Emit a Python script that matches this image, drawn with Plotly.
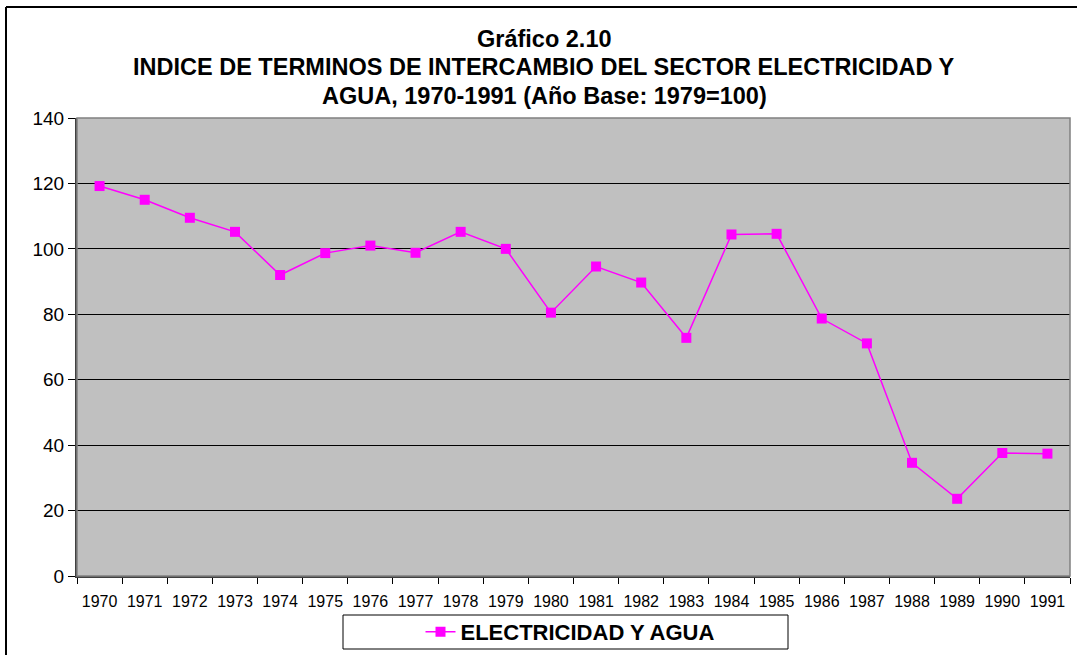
import plotly.graph_objects as go

years = [str(y) for y in range(1970, 1992)]
values = [119.2, 115.0, 109.5, 105.2, 92.0, 98.7, 101.0, 98.8, 105.2, 100.0,
          80.5, 94.6, 89.7, 72.8, 104.4, 104.6, 78.7, 71.1, 34.6, 23.6, 37.6, 37.4]
y_ticks = [0, 20, 40, 60, 80, 100, 120, 140]
series_name = "ELECTRICIDAD Y AGUA"
title_lines = ["Gráfico 2.10",
               "INDICE DE TERMINOS DE INTERCAMBIO DEL SECTOR ELECTRICIDAD Y",
               "AGUA, 1970-1991 (Año Base: 1979=100)"]

FONT = "Arial, Liberation Sans, sans-serif"
W, H = 1077, 655
L, R, T, B = 77, 1070, 118, 576

fig = go.Figure()
fig.add_trace(go.Scatter(
    x=years, y=values, mode="lines+markers", name=series_name,
    line=dict(color="#FF00FF", width=1.5),
    marker=dict(symbol="square", size=10, color="#FF00FF"),
))

pw = R - L
ph = B - T
def px(x):
    return (x - L) / pw
def py(y):
    return (B - y) / ph

shapes = [
    dict(type="rect", xref="paper", yref="paper", x0=0, x1=1, y0=0, y1=1,
         line=dict(color="#808080", width=1.5), layer="above"),
    dict(type="line", xref="paper", yref="paper", x0=px(6), x1=px(6), y0=py(7), y1=py(660),
         line=dict(color="black", width=2)),
    dict(type="line", xref="paper", yref="paper", x0=px(6), x1=px(1080), y0=py(7), y1=py(7),
         line=dict(color="black", width=2)),
    dict(type="rect", xref="paper", yref="paper", x0=px(343), x1=px(788), y0=py(615), y1=py(649),
         line=dict(color="black", width=1), fillcolor="white"),
]

annotations = []
for txt, yc in zip(title_lines, [39, 67, 96]):
    annotations.append(dict(text="<b>%s</b>" % txt, xref="paper", yref="paper",
                            x=px(544), y=py(yc), xanchor="center", yanchor="middle",
                            showarrow=False, font=dict(family=FONT, size=23.5, color="black")))

fig.update_layout(
    width=W, height=H,
    margin=dict(l=L, r=W - R, t=T, b=H - B, autoexpand=False),
    paper_bgcolor="white", plot_bgcolor="#C0C0C0",
    font=dict(family=FONT, color="black"),
    showlegend=True,
    legend=dict(orientation="h", x=px(570), xanchor="center", y=py(632), yanchor="middle",
                bgcolor="rgba(0,0,0,0)", borderwidth=0,
                font=dict(family=FONT, size=22, color="black", weight="bold")),
    xaxis=dict(type="category", tickson="boundaries", ticks="outside", ticklen=6,
               tickcolor="black", showgrid=False, showline=True, linecolor="#404040",
               linewidth=1.5, tickfont=dict(size=16, family=FONT), range=[-0.5, 21.5],
               ticklabelstandoff=10, automargin=False, fixedrange=True),
    yaxis=dict(range=[0, 140], tickvals=y_ticks, ticks="outside", ticklen=7, tickcolor="black",
               showgrid=True, gridcolor="black", gridwidth=1, showline=True,
               linecolor="#404040", linewidth=2, tickfont=dict(size=19, family=FONT),
               zeroline=False, automargin=False, fixedrange=True),
    shapes=shapes,
    annotations=annotations,
)

fig.write_html("out.html", config={"displayModeBar": False},
               post_script="document.body.style.margin='0';document.body.style.overflow='hidden';")
